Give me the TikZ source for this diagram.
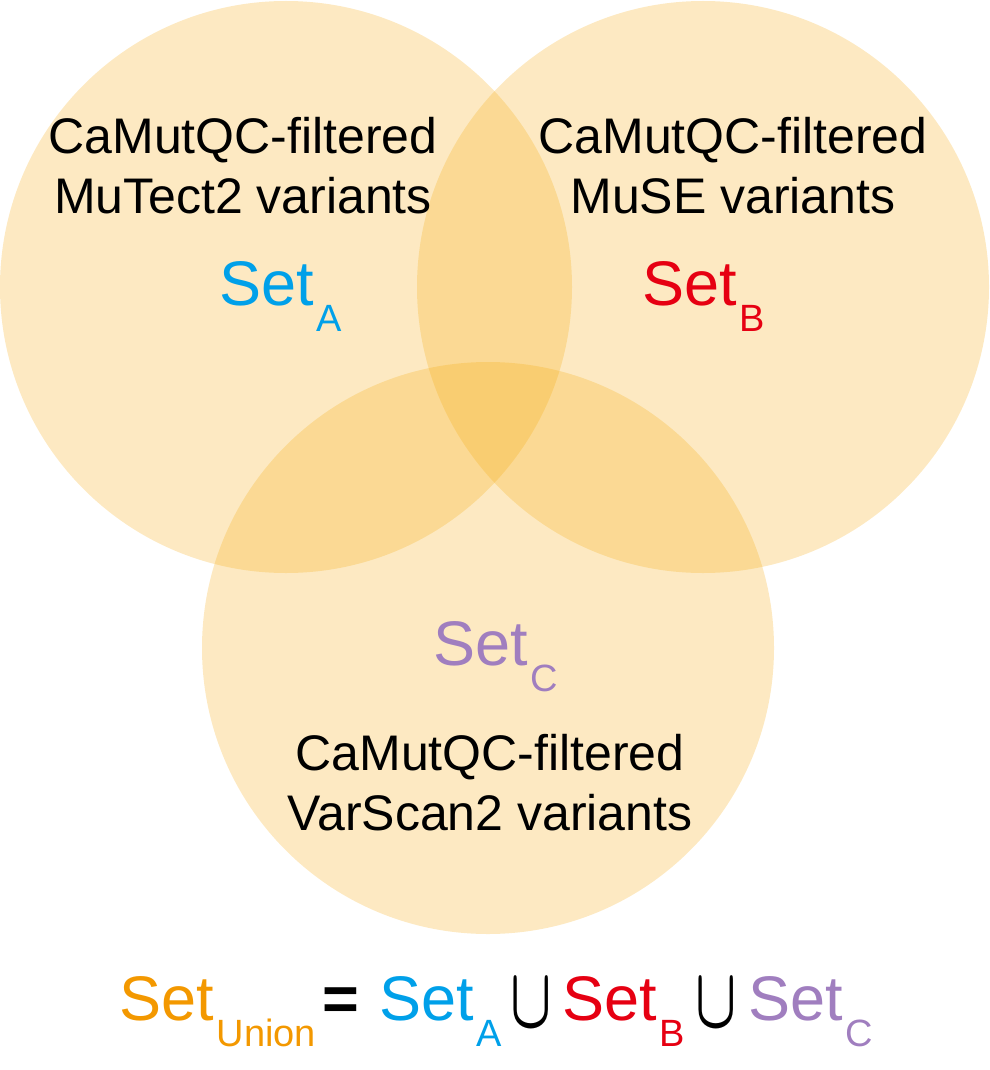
\documentclass[tikz,border=0pt]{standalone}
\usepackage{fontspec}
\setmainfont{Liberation Sans}
\usetikzlibrary{positioning}
\definecolor{VennFill}{RGB}{245,165,0}
\definecolor{SetOrange}{HTML}{F39800}
\definecolor{SetBlue}{HTML}{00A0E9}
\definecolor{SetRed}{HTML}{E60012}
\definecolor{SetPurple}{HTML}{A07EBF}
\newcommand{\setname}[2]{{\color{#1}\fontsize{63}{63}\selectfont Set\raisebox{-26pt}{\fontsize{38}{38}\selectfont\hspace{3pt}#2}}}
\newcommand{\bigcupsym}{\scalebox{5.4}[8.6]{\boldmath$\cup$}}

\begin{document}
\begin{tikzpicture}[x=1pt,y=-1pt,
  venn/.style={fill=VennFill, fill opacity=0.24},
  caller/.style={align=center, font=\fontsize{50}{60}\selectfont, inner sep=0pt},
  piece/.style={anchor=base west, inner sep=0pt}]
  \useasboundingbox (0,0) rectangle (989,1070);
  \fill[venn] (286,287) circle[radius=286];
  \fill[venn] (703,287) circle[radius=286];
  \fill[venn] (488,648) circle[radius=286];
  % texts: base = baseline of the last line
  \node[caller, anchor=base] (mutect) at (243,213) {CaMutQC-filtered\\MuTect2 variants};
  \node[caller, anchor=base] (muse) at (733,213) {CaMutQC-filtered\\MuSE variants};
  \node[caller, anchor=base] (varscan) at (490,830) {CaMutQC-filtered\\VarScan2 variants};
  \node[piece] (setA) at (219,305) {\setname{SetBlue}{A}};
  \node[piece] (setB) at (642,305) {\setname{SetRed}{B}};
  \node[piece] (setC) at (433,665) {\setname{SetPurple}{C}};
  % the formula below
  \node[piece] (setU) at (119,1020) {\setname{SetOrange}{Union}};
  \node[piece] (eq) at (322,1020) {\fontsize{63}{63}\selectfont\textbf{=}};
  \node[piece] (setA2) at (379,1020) {\setname{SetBlue}{A}};
  \node[piece] (cupAB) at (510,1027) {\bigcupsym};
  \node[piece] (setB2) at (562,1020) {\setname{SetRed}{B}};
  \node[piece] (cupBC) at (695,1027) {\bigcupsym};
  \node[piece] (setC2) at (748,1020) {\setname{SetPurple}{C}};
\end{tikzpicture}
\end{document}
